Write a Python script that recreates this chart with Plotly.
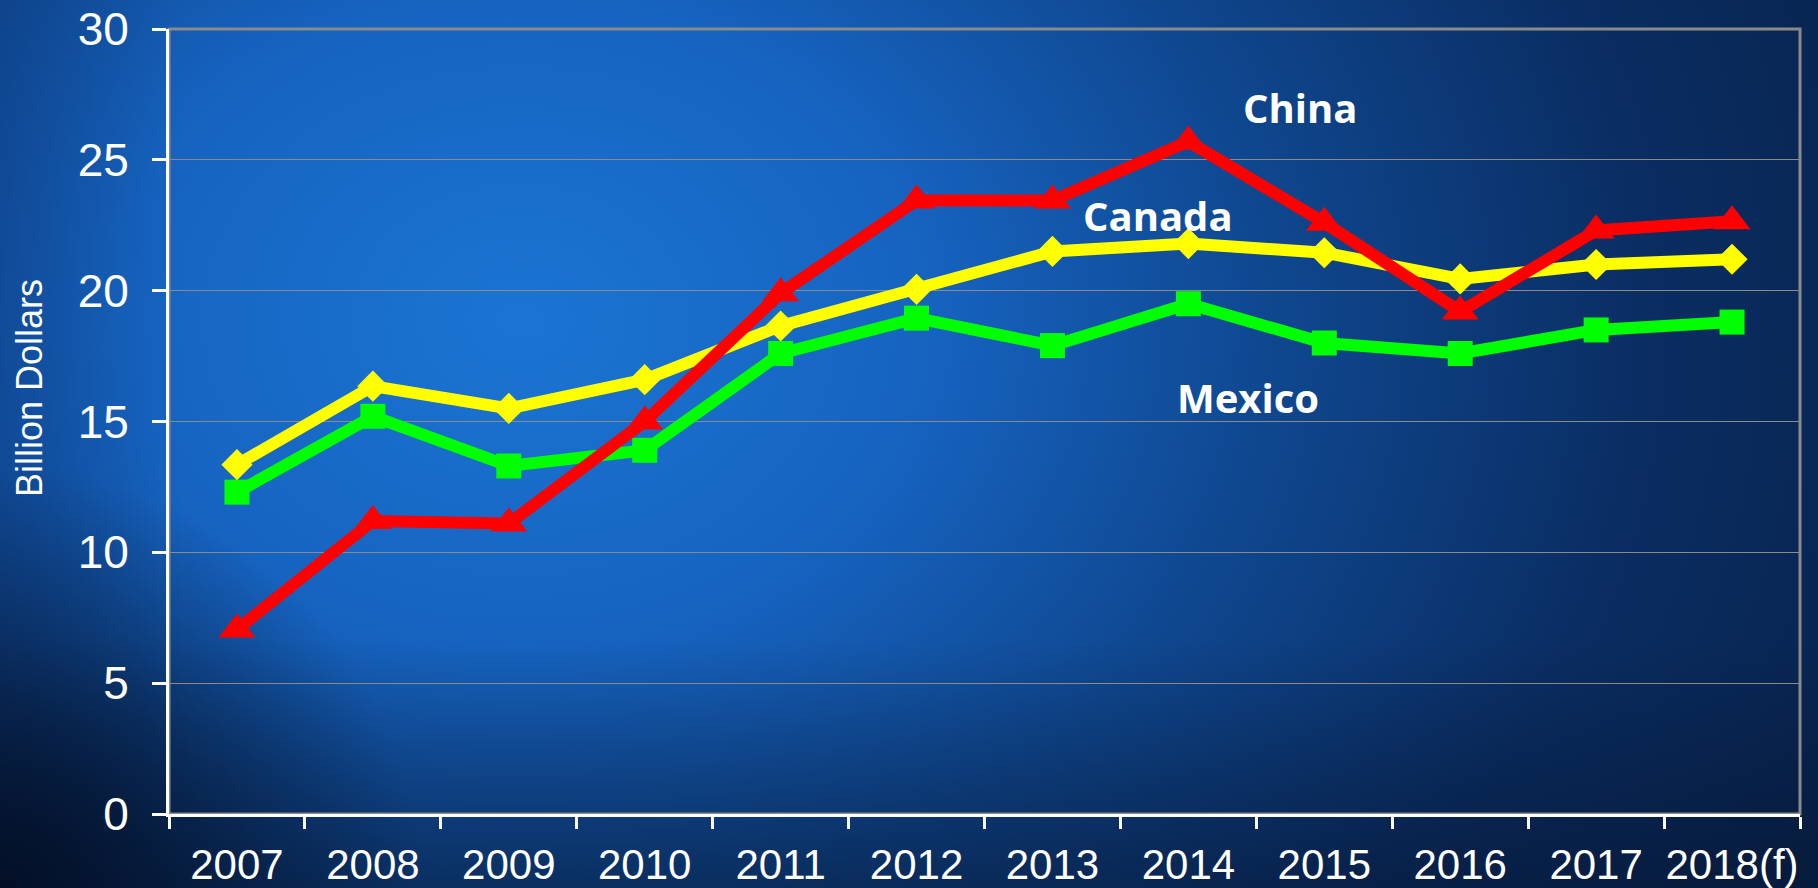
import base64
import plotly.graph_objects as go

# Annual values, billion dollars
years = ["2007", "2008", "2009", "2010", "2011", "2012", "2013", "2014",
         "2015", "2016", "2017", "2018(f)"]
mexico = [12.3, 15.2, 13.3, 13.9, 17.6, 18.95, 17.9, 19.5, 18.0, 17.6, 18.5, 18.8]
canada = [13.35, 16.35, 15.5, 16.6, 18.65, 20.05, 21.5, 21.8, 21.45, 20.45, 21.0, 21.2]
china = [7.05, 11.2, 11.1, 15.0, 19.9, 23.45, 23.45, 25.7, 22.6, 19.2, 22.3, 22.65]

W, H = 1818, 888
L, R, T, B = 169, 18, 29, 74
PW, PH = W - L - R, H - T - B

# Blue slide-style backdrop as an inline SVG gradient
bg_svg = f'''<svg xmlns="http://www.w3.org/2000/svg" width="{W}" height="{H}" viewBox="0 0 {W} {H}" preserveAspectRatio="none">
<defs>
<radialGradient id="g" gradientUnits="userSpaceOnUse" cx="520" cy="320" r="1450"
 gradientTransform="translate(520 320) scale(1 0.8) translate(-520 -320)">
<stop offset="0" stop-color="#1b75d3"/>
<stop offset="0.28" stop-color="#1663c0"/>
<stop offset="0.52" stop-color="#0f478f"/>
<stop offset="0.78" stop-color="#0a2d62"/>
<stop offset="1" stop-color="#08234d"/>
</radialGradient>
<linearGradient id="bt" x1="0" y1="0" x2="0" y2="1">
<stop offset="0.72" stop-color="#04132c" stop-opacity="0"/>
<stop offset="1" stop-color="#04132c" stop-opacity="0.5"/>
</linearGradient>
<linearGradient id="lf" x1="0" y1="0" x2="1" y2="0">
<stop offset="0" stop-color="#0a2f6a" stop-opacity="0.35"/>
<stop offset="0.1" stop-color="#0a2f6a" stop-opacity="0"/>
</linearGradient>
<radialGradient id="v" gradientUnits="userSpaceOnUse" cx="0" cy="{H}" r="420">
<stop offset="0" stop-color="#030e24" stop-opacity="0.95"/>
<stop offset="1" stop-color="#030e24" stop-opacity="0"/>
</radialGradient>
</defs>
<rect width="{W}" height="{H}" fill="url(#g)"/>
<rect width="{W}" height="{H}" fill="url(#lf)"/>
<rect width="{W}" height="{H}" fill="url(#bt)"/>
<rect width="{W}" height="{H}" fill="url(#v)"/>
</svg>'''
bg_src = "data:image/svg+xml;base64," + base64.b64encode(bg_svg.encode()).decode()

fig = go.Figure()

series = [
    ("Mexico", mexico, "#00ff00", "square", 25),
    ("Canada", canada, "#ffff00", "diamond", 24),
    ("China", china, "#ff0000", "triangle-up", 32),
]
for name, vals, color, symbol, size in series:
    fig.add_trace(go.Scatter(
        x=years, y=vals, name=name, mode="lines+markers",
        line=dict(color=color, width=12),
        marker=dict(symbol=symbol, size=size, color=color, line=dict(width=0)),
        hoverinfo="skip",
    ))

def px_to_paper(px, py):
    return (px - L) / PW, (H - B - py) / PH

label_font = dict(family="Open Sans", size=40, color="white")
for text, px, py in [("China", 1300, 108), ("Canada", 1158, 216), ("Mexico", 1248, 397)]:
    ax, ay = px_to_paper(px, py)
    fig.add_annotation(x=ax, y=ay, xref="paper", yref="paper", text=f"<b>{text}</b>",
                       showarrow=False, font=label_font, xanchor="center", yanchor="middle")

# Axis title
tx, ty = px_to_paper(29, 388)
fig.add_annotation(x=tx, y=ty, xref="paper", yref="paper", text="Billion Dollars",
                   showarrow=False, textangle=-90,
                   font=dict(family="Liberation Sans, Arial", size=36, color="white"),
                   xanchor="center", yanchor="middle")

# Grey frame on the top and right edges of the plot area
fig.add_shape(type="rect", xref="paper", yref="paper", x0=0, y0=0, x1=1, y1=1,
              line=dict(color="#8a8a8a", width=3), layer="below")

fig.add_layout_image(dict(source=bg_src, xref="paper", yref="paper",
                          x=-L / PW, y=1 + T / PH, sizex=W / PW, sizey=H / PH,
                          xanchor="left", yanchor="top", sizing="stretch", layer="below"))

x_font = dict(family="Liberation Sans, Arial", size=42, color="white")
y_font = dict(family="Liberation Sans, Arial", size=46, color="white")
fig.update_layout(
    width=W, height=H,
    margin=dict(l=L, r=R, t=T, b=B, autoexpand=False),
    paper_bgcolor="#0b2c5e",
    plot_bgcolor="rgba(0,0,0,0)",
    showlegend=False,
    xaxis=dict(type="category", range=[-0.5, len(years) - 0.5], tickson="boundaries",
               ticks="outside", ticklen=12, tickangle=0, automargin=False,
               tickwidth=3, tickcolor="white", showline=True, linecolor="white",
               linewidth=3, showgrid=False, tickfont=x_font, zeroline=False,
               ticklabelstandoff=12, fixedrange=True),
    yaxis=dict(range=[0, 30], dtick=5, ticks="outside", ticklen=14, tickwidth=3,
               tickcolor="white", showline=True, linecolor="white", linewidth=3,
               showgrid=True, gridcolor="#8a8a8a", gridwidth=1, zeroline=False,
               automargin=False, tickfont=y_font, ticklabelstandoff=14,
               fixedrange=True),
)

fig.write_html("out.html")
